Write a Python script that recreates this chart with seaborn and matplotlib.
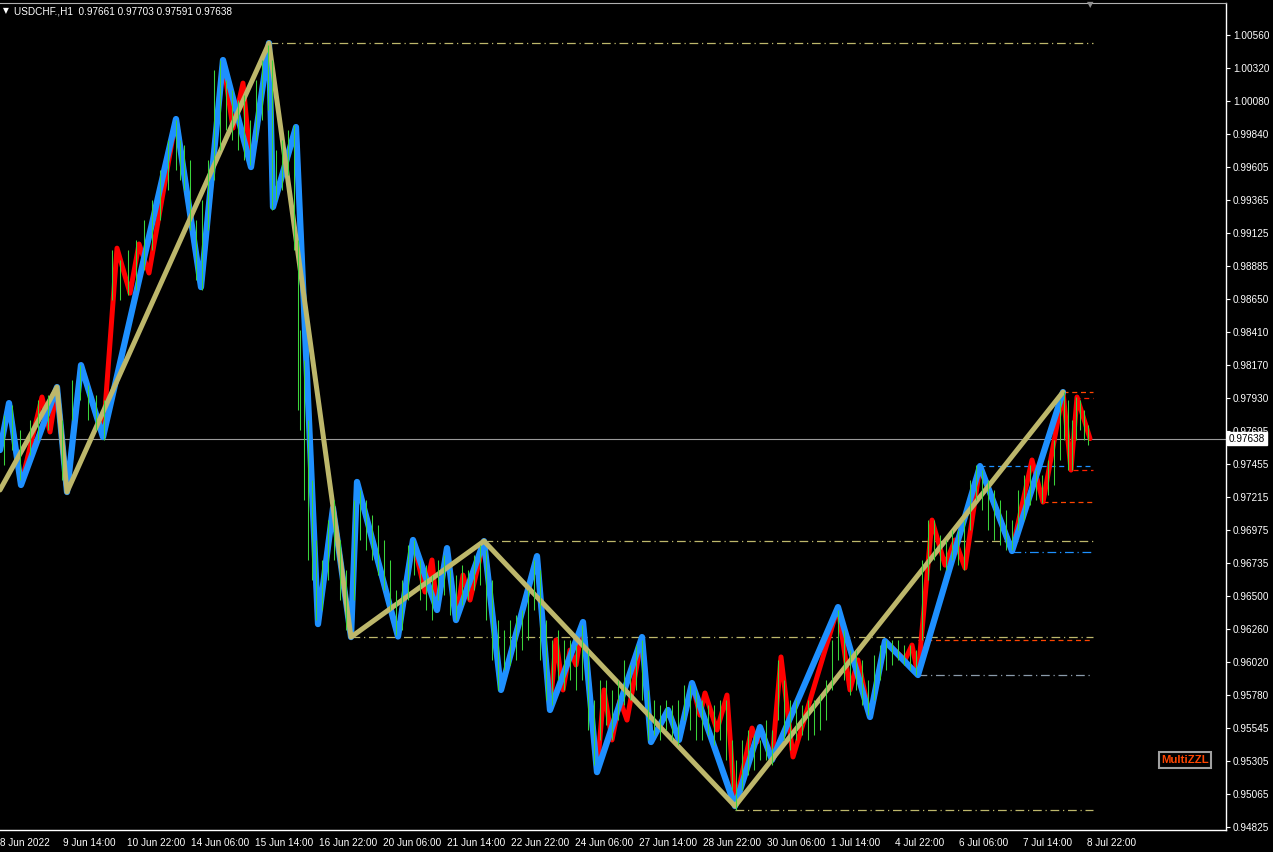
import pandas as pd
import seaborn as sns
import matplotlib.pyplot as plt

# ---- data (x = hourly bar index, weekends skipped; y = price) ----
khaki_bar = [0, 28.5, 33.5, 134.5, 175.5, 242, 367.5, 531.5]
khaki_price = [0.97266, 0.98011, 0.97251, 1.00502, 0.96201, 0.96896, 0.94977, 0.97975]

blue_bar = [0, 4.5, 10.5, 28.5, 33.5, 40.5, 51.5, 88, 100.5, 111.5, 125.5, 134.5, 136.5,
            148, 159, 166.5, 175.5, 178.5, 199, 206.5, 218.5, 223.5, 228, 242, 250.5,
            268.5, 275, 291.5, 298.5, 321, 325.5, 334, 339.5, 346, 367.5, 380, 386,
            419, 435, 442.5, 459, 490, 506, 531.5]
blue_price = [0.97555, 0.97895, 0.97302, 0.98011, 0.97251, 0.98170, 0.97649, 0.99952,
              0.98735, 1.00379, 0.99604, 1.00502, 0.99315, 0.99894, 0.96295, 0.97135,
              0.96201, 0.97324, 0.96205, 0.96904, 0.96397, 0.96845, 0.96324, 0.96896,
              0.95818, 0.96787, 0.95673, 0.96310, 0.95223, 0.96201, 0.95441, 0.95673,
              0.95456, 0.95868, 0.94977, 0.95549, 0.95311, 0.96418, 0.95622, 0.96172,
              0.95926, 0.97439, 0.96824, 0.97975]

red_bar = [0, 4.5, 10.5, 21, 25, 28.5, 33.5, 40.5, 51.5, 58.5, 65, 69.5, 74.5, 88, 100.5,
           111.5, 116.5, 121.5, 125.5, 134.5, 136.5, 148, 159, 166.5, 175.5, 178.5, 199,
           206.5, 212.5, 216, 218.5, 223.5, 228, 231.5, 235, 242, 250.5, 268.5, 275, 278,
           281.5, 285, 288, 291.5, 298.5, 302, 306, 310, 313.5, 321, 325.5, 334, 339.5,
           346, 350, 352.5, 358.5, 363.5, 367.5, 376, 378.5, 380, 386, 390.5, 396.5, 419,
           425, 429, 435, 442.5, 452.5, 456, 459, 466, 472.5, 477.5, 482.5, 490, 506, 516,
           521.5, 531.5, 535.5, 538.5, 545]
red_price = [0.97555, 0.97895, 0.97302, 0.97939, 0.97686, 0.98011, 0.97251, 0.98170,
             0.97649, 0.99017, 0.98691, 0.99047, 0.98837, 0.99952, 0.98735, 1.00379,
             0.99886, 1.00212, 0.99604, 1.00502, 0.99315, 0.99894, 0.96295, 0.97135,
             0.96201, 0.97324, 0.96205, 0.96904, 0.96527, 0.96759, 0.96397, 0.96845,
             0.96324, 0.96650, 0.96469, 0.96896, 0.95818, 0.96787, 0.95673, 0.96180,
             0.95818, 0.96107, 0.95999, 0.96310, 0.95223, 0.95818, 0.95456, 0.95745,
             0.95600, 0.96201, 0.95441, 0.95673, 0.95456, 0.95868, 0.95636, 0.95796,
             0.95528, 0.95781, 0.94977, 0.95542, 0.95441, 0.95549, 0.95311, 0.96057,
             0.95333, 0.96418, 0.95818, 0.96035, 0.95622, 0.96172, 0.96035, 0.96143,
             0.95926, 0.97048, 0.96722, 0.96904, 0.96701, 0.97439, 0.96824, 0.97483,
             0.97178, 0.97975, 0.97410, 0.97939, 0.97638]

# price bars (high / low)
bar_idx = [2, 6, 10, 15, 19, 24, 31, 36, 40, 44, 48, 52, 56, 60, 64, 68, 72, 76, 80, 84,
           88, 90, 92, 95, 98, 101, 104, 107, 110, 113, 116, 119, 122, 125, 128, 131, 134,
           136, 138, 141, 144, 147, 149, 150, 152, 154, 156, 158, 161, 164, 167, 170, 173,
           177, 180, 183, 186, 189, 192, 195, 198, 201, 204, 207, 210, 213, 216, 219, 222,
           225, 228, 231, 234, 237, 240, 243, 246, 249, 252, 255, 258, 261, 264, 267, 270,
           273, 276, 279, 282, 285, 288, 291, 294, 297, 300, 303, 306, 309, 312, 315, 318,
           321, 324, 327, 330, 333, 336, 339, 342, 345, 348, 351, 354, 357, 360, 363, 366,
           368, 371, 374, 377, 380, 383, 386, 389, 392, 395, 398, 401, 404, 407, 410, 413,
           416, 419, 422, 425, 428, 431, 434, 437, 440, 443, 446, 449, 452, 455, 458, 461,
           464, 467, 470, 473, 476, 479, 482, 485, 488, 491, 494, 497, 500, 503, 506, 509,
           512, 515, 518, 521, 524, 527, 530, 532, 534, 536, 538, 540, 542, 544]
bar_high = [0.97808, 0.97881, 0.97700, 0.97772, 0.97917, 0.97953, 0.97772, 0.98062, 0.98170,
            0.98026, 0.97953, 0.97917, 0.99003, 0.98931, 0.99003, 0.99076, 0.99220, 0.99365,
            0.99582, 0.99800, 0.99945, 0.99800, 0.99764, 0.99655, 0.99220, 0.99365, 0.99655,
            1.00307, 1.00379, 1.00234, 1.00162, 1.00089, 1.00125, 0.99945, 1.00234, 1.00379,
            1.00488, 1.00379, 0.99727, 0.99800, 0.99872, 0.99908, 0.99076, 0.98424, 0.98207,
            0.97772, 0.97338, 0.96904, 0.96759, 0.97048, 0.97193, 0.96904, 0.96686, 0.97193,
            0.97266, 0.97193, 0.97085, 0.97012, 0.96904, 0.96759, 0.96542, 0.96614, 0.96867,
            0.96904, 0.96759, 0.96722, 0.96650, 0.96759, 0.96795, 0.96686, 0.96650, 0.96722,
            0.96686, 0.96795, 0.96867, 0.96831, 0.96614, 0.96324, 0.96252, 0.96324, 0.96360,
            0.96397, 0.96542, 0.96759, 0.96686, 0.96324, 0.96180, 0.96252, 0.96180, 0.96180,
            0.96143, 0.96288, 0.96107, 0.95745, 0.95890, 0.95890, 0.95818, 0.95890, 0.96035,
            0.95999, 0.96143, 0.96180, 0.95818, 0.95745, 0.95709, 0.95745, 0.95709, 0.95745,
            0.95854, 0.95854, 0.95818, 0.95745, 0.95709, 0.95709, 0.95745, 0.95745, 0.95456,
            0.95311, 0.95456, 0.95528, 0.95492, 0.95456, 0.95600, 0.95528, 0.96035, 0.95890,
            0.95745, 0.95745, 0.95709, 0.95745, 0.95745, 0.95781, 0.95890, 0.96180, 0.96397,
            0.96252, 0.96107, 0.96107, 0.96035, 0.95890, 0.96071, 0.96143, 0.96180, 0.96180,
            0.96180, 0.96143, 0.96143, 0.96107, 0.96759, 0.97048, 0.97048, 0.96940, 0.96904,
            0.96976, 0.96976, 0.97048, 0.97338, 0.97446, 0.97410, 0.97338, 0.97266, 0.97193,
            0.97121, 0.97048, 0.97266, 0.97374, 0.97446, 0.97410, 0.97374, 0.97483, 0.97628,
            0.97917, 0.97975, 0.97917, 0.97772, 0.97939, 0.97917, 0.97845, 0.97736]
bar_low = [0.97446, 0.97555, 0.97338, 0.97519, 0.97628, 0.97700, 0.97338, 0.97772, 0.97917,
           0.97772, 0.97700, 0.97628, 0.98641, 0.98641, 0.98677, 0.98714, 0.98858, 0.99003,
           0.99220, 0.99438, 0.99582, 0.99510, 0.99438, 0.99148, 0.98786, 0.98714, 0.99148,
           0.99510, 0.99727, 0.99872, 0.99800, 0.99727, 0.99655, 0.99618, 0.99800, 0.99945,
           1.00017, 0.99293, 0.99365, 0.99438, 0.99546, 0.99003, 0.97845, 0.97700, 0.97193,
           0.96759, 0.96614, 0.96324, 0.96397, 0.96614, 0.96759, 0.96469, 0.96252, 0.96469,
           0.96904, 0.96831, 0.96759, 0.96650, 0.96542, 0.96397, 0.96216, 0.96252, 0.96469,
           0.96650, 0.96469, 0.96397, 0.96324, 0.96469, 0.96505, 0.96360, 0.96324, 0.96433,
           0.96469, 0.96542, 0.96578, 0.96324, 0.96035, 0.95818, 0.95962, 0.95999, 0.96035,
           0.96107, 0.96180, 0.96397, 0.96035, 0.95745, 0.95709, 0.95890, 0.95818, 0.95890,
           0.95818, 0.95890, 0.95528, 0.95274, 0.95456, 0.95564, 0.95456, 0.95600, 0.95709,
           0.95745, 0.95818, 0.95745, 0.95456, 0.95492, 0.95456, 0.95528, 0.95456, 0.95419,
           0.95600, 0.95528, 0.95456, 0.95456, 0.95492, 0.95419, 0.95456, 0.95311, 0.95094,
           0.94949, 0.95094, 0.95202, 0.95238, 0.95311, 0.95311, 0.95274, 0.95600, 0.95456,
           0.95383, 0.95456, 0.95492, 0.95456, 0.95492, 0.95528, 0.95600, 0.95818, 0.96035,
           0.95890, 0.95781, 0.95818, 0.95709, 0.95636, 0.95745, 0.95890, 0.95962, 0.95999,
           0.96035, 0.95999, 0.95962, 0.95926, 0.96180, 0.96614, 0.96759, 0.96686, 0.96686,
           0.96759, 0.96722, 0.96686, 0.96976, 0.97193, 0.97121, 0.96976, 0.96904, 0.96867,
           0.96831, 0.96831, 0.96976, 0.97048, 0.97157, 0.97193, 0.97172, 0.97229, 0.97302,
           0.97483, 0.97628, 0.97410, 0.97410, 0.97628, 0.97700, 0.97628, 0.97592]

# horizontal levels left by the last zigzag vertices
level_price = [1.00502, 0.97975, 0.97931, 0.97439, 0.97410, 0.97178, 0.96896, 0.96816,
               0.96201, 0.96180, 0.95926, 0.94948]
level_start = [134.5, 531.5, 537.5, 490, 536.5, 521.5, 242, 506, 175.5, 459, 459, 367.5]
level_color = ['#BDB76B', '#FF4500', '#FF2000', '#1E90FF', '#FF2000', '#FF4500', '#BDB76B',
               '#1E90FF', '#BDB76B', '#FF4500', '#8a9aaa', '#BDB76B']
level_dash = ['dd', 'd', 'd', 'd', 'd', 'd', 'dd', 'dd', 'dd', 'd', 'dd', 'dd']

ytick_vals = [1.00560, 1.00320, 1.00080, 0.99840, 0.99605, 0.99365, 0.99125, 0.98885,
              0.98650, 0.98410, 0.98170, 0.97930, 0.97695, 0.97455, 0.97215, 0.96975,
              0.96735, 0.96500, 0.96260, 0.96020, 0.95780, 0.95545, 0.95305, 0.95065, 0.94825]
xtick_labels = ['8 Jun 2022', '9 Jun 14:00', '10 Jun 22:00', '14 Jun 06:00', '15 Jun 14:00',
                '16 Jun 22:00', '20 Jun 06:00', '21 Jun 14:00', '22 Jun 22:00', '24 Jun 06:00',
                '27 Jun 14:00', '28 Jun 22:00', '30 Jun 06:00', '1 Jul 14:00', '4 Jul 22:00',
                '6 Jul 06:00', '7 Jul 14:00', '8 Jul 22:00']
last_price = 0.97638

sns.set_style("dark", rc={"axes.facecolor": "black", "figure.facecolor": "black"})
plt.rcParams['font.family'] = ['Liberation Sans', 'DejaVu Sans']

W, H = 1273, 852
fig = plt.figure(figsize=(W / 100, H / 100), dpi=100)
ax = fig.add_axes([0, (H - 830) / H, 1226 / W, 827 / H])
ax.set_facecolor('black')

# levels
styles = {'d': (0, (4, 3)), 'dd': (0, (7, 3, 1, 3))}
for p, s, c, d in zip(level_price, level_start, level_color, level_dash):
    ax.hlines(p, s, 546.5, colors=c, linestyles=[styles[d]], lw=0.9, zorder=1)

ax.axhline(last_price, color='#9a9a9a', lw=0.8, zorder=1)

# zigzags
kw = dict(sort=False, estimator=None, ax=ax, solid_capstyle='round', solid_joinstyle='round')
sns.lineplot(data=pd.DataFrame({'bar': red_bar, 'price': red_price}), x='bar', y='price',
             color='#FF0000', lw=3.6, zorder=2, **kw)
sns.lineplot(data=pd.DataFrame({'bar': blue_bar, 'price': blue_price}), x='bar', y='price',
             color='#1E90FF', lw=4.5, zorder=3, **kw)
sns.lineplot(data=pd.DataFrame({'bar': khaki_bar, 'price': khaki_price}), x='bar', y='price',
             color='#BDB76B', lw=3.6, zorder=4, **kw)

# price bars on top
ax.vlines(bar_idx, bar_low, bar_high, colors='#3ad43a', lw=0.75, zorder=5)

ax.set_xlim(0, 613)
ax.set_ylim(0.94804, 1.00792)
ax.set_xlabel('')
ax.set_ylabel('')
ax.grid(False)

ax.spines['left'].set_visible(False)
for side in ['right', 'bottom']:
    ax.spines[side].set_color('white')
    ax.spines[side].set_linewidth(1)
ax.spines['top'].set_color('#b0b0b0')
ax.spines['top'].set_linewidth(0.8)

ax.yaxis.tick_right()
ax.set_yticks(ytick_vals)
ax.set_yticklabels([f'{v:.5f}' for v in ytick_vals])
ax.tick_params(axis='y', colors='white', length=3, width=0.8, pad=2, labelsize=7.2,
               left=False, right=True)

ax.set_xticks([0] + [31.5 + 32 * i for i in range(len(xtick_labels) - 1)])
ax.set_xticklabels(xtick_labels, ha='left')
ax.tick_params(axis='x', colors='white', length=3, width=0.8, pad=3, labelsize=7.2)

# current price tag
ax.text(1.002, last_price, '0.97638', transform=ax.get_yaxis_transform(), color='black',
        fontsize=7.2, ha='left', va='center', zorder=10, clip_on=False,
        bbox=dict(boxstyle='square,pad=0.18', fc='white', ec='white'))

# header
fig.text(3 / W, 1 - 11 / H, '\u25BC', color='white', fontsize=5.5, va='center',
         family=['DejaVu Sans'])
fig.text(14 / W, 1 - 11 / H, 'USDCHF.,H1  0.97661 0.97703 0.97591 0.97638', color='white',
         fontsize=7.2, va='center')
fig.text(1090 / W, 1 - 5 / H, '\u25BC', color='#909090', fontsize=6, ha='center',
         va='center', family=['DejaVu Sans'])

# indicator label
fig.text(1185 / W, 1 - 760 / H, 'MultiZZL', color='#FF4500', fontsize=8.2, weight='bold',
         ha='center', va='center',
         bbox=dict(boxstyle='square,pad=0.22', fc='black', ec='#a0a0a0', lw=1.5))

fig.savefig('out.png', dpi=100, facecolor='black')
